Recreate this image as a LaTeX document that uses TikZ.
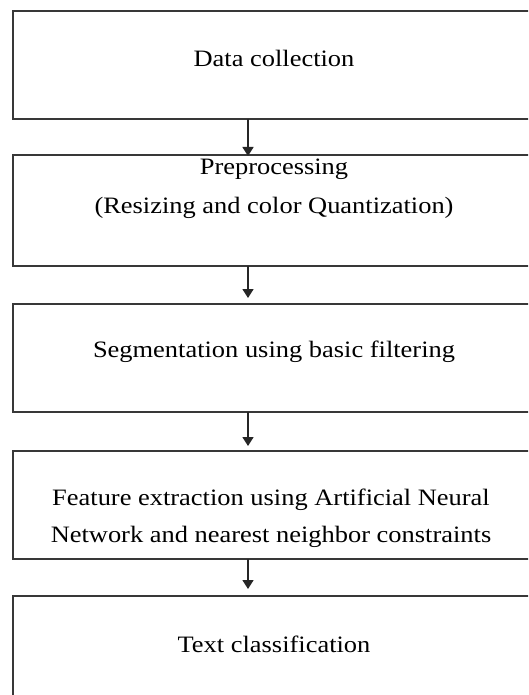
\documentclass[tikz,border=0pt]{standalone}
\usepackage{fontspec}
\setmainfont{Liberation Serif}[FakeStretch=1.125]
\usetikzlibrary{arrows.meta}
\tikzset{
  box/.style={draw=black!78, line width=1.3pt, rectangle, inner sep=0pt, outer sep=0pt, anchor=north west, minimum width=522pt},
  lbl/.style={anchor=base, inner sep=0pt, font=\fontsize{23.5pt}{37.5pt}\selectfont, text=black},
  arr/.style={draw=black!85, line width=1.6pt, -{Triangle[length=9pt,width=11pt]}}
}
\begin{document}
\begin{tikzpicture}[x=1pt,y=-1pt]
\useasboundingbox (0,0) rectangle (528,695);
\clip (0,0) rectangle (528,695);
\fill[white] (0,0) rectangle (528,695);
% boxes
\node[box, minimum height=108pt] (b1) at (13,11) {};
\node[box, minimum height=111pt] (b2) at (13,155) {};
\node[box, minimum height=108pt] (b3) at (13,304) {};
\node[box, minimum height=108pt] (b4) at (13,451) {};
\node[box, minimum height=120pt] (b5) at (13,596) {};
% labels
\node[lbl] (t1) at (274,67) {Data collection};
\node[lbl] (t2a) at (274,175) {Preprocessing};
\node[lbl] (t2b) at (274,213) {(Resizing and color Quantization)};
\node[lbl] (t3) at (274,357) {Segmentation using basic filtering};
\node[lbl] (t4a) at (271,505) {Feature extraction using Artificial Neural};
\node[lbl] (t4b) at (271,542) {Network and nearest neighbor constraints};
\node[lbl] (t5) at (274,652) {Text classification};
% connectors
\coordinate (ax) at (248,0);
\draw[arr, shorten >=-1pt] (b1.south -| ax) -- (b2.north -| ax);
\draw[arr, shorten >=6pt] (b2.south -| ax) -- (b3.north -| ax);
\draw[arr, shorten >=5pt] (b3.south -| ax) -- (b4.north -| ax);
\draw[arr, shorten >=7pt] (b4.south -| ax) -- (b5.north -| ax);
\end{tikzpicture}
\end{document}
